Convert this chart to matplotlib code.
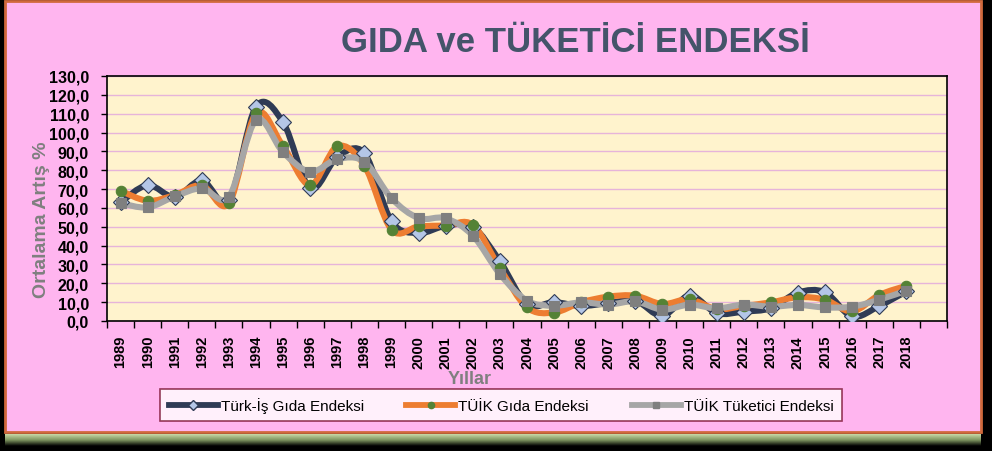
import matplotlib
matplotlib.use('Agg')
import matplotlib.pyplot as plt
from matplotlib.path import Path
from matplotlib.patches import PathPatch, Rectangle
from matplotlib.lines import Line2D
from matplotlib.ticker import FixedLocator, FuncFormatter
from matplotlib.colors import LinearSegmentedColormap
import numpy as np

# Data
years = [str(y) for y in range(1989, 2019)]
turkis_gida = [63.0, 72.1, 65.8, 74.6, 64.0, 113.7, 105.4, 70.5, 87.0, 89.0,
               52.9, 46.7, 50.5, 50.0, 31.7, 9.0, 10.0, 8.0, 9.5, 10.8,
               2.7, 13.5, 4.2, 5.0, 6.8, 15.1, 15.2, 2.4, 8.0, 15.7]
tuik_gida = [69.1, 63.8, 66.8, 72.0, 62.4, 110.2, 92.7, 72.1, 92.7, 82.4,
             48.4, 50.2, 50.6, 51.0, 28.0, 7.2, 4.5, 9.9, 12.9, 13.4,
             9.0, 11.5, 6.3, 8.0, 9.9, 12.6, 11.3, 5.1, 13.8, 18.7]
tuik_tuketici = [62.5, 60.3, 66.1, 70.4, 66.0, 106.6, 89.5, 79.2, 85.9, 84.5,
                 65.1, 54.6, 54.5, 45.3, 24.9, 10.8, 8.1, 9.9, 8.7, 10.4,
                 6.0, 8.7, 6.7, 8.7, 7.6, 8.5, 7.2, 7.6, 11.3, 16.1]
labels = ['Türk-İş Gıda Endeksi', 'TÜİK Gıda Endeksi', 'TÜİK Tüketici Endeksi']

plt.rcParams['font.family'] = ['Liberation Sans', 'DejaVu Sans']


def smooth_path(xs, ys):
    """Excel-like smoothed line: Catmull-Rom as cubic Bezier segments"""
    pts = np.column_stack([xs, ys])
    n = len(pts)
    verts = [pts[0]]
    codes = [Path.MOVETO]
    for i in range(n - 1):
        p0 = pts[i - 1] if i > 0 else pts[i]
        p1 = pts[i]
        p2 = pts[i + 1]
        p3 = pts[i + 2] if i + 2 < n else pts[i + 1]
        c1 = p1 + (p2 - p0) / 6.0
        c2 = p2 - (p3 - p1) / 6.0
        verts += [c1, c2, p2]
        codes += [Path.CURVE4] * 3
    return Path(verts, codes)


fig = plt.figure(figsize=(9.92, 4.52), dpi=100, facecolor='black')

# pink chart area with orange border
fig.patches.append(Rectangle((5 / 992, 1 - 433 / 452), 976 / 992, 431 / 452,
                             transform=fig.transFigure, facecolor='#FFB5EF',
                             edgecolor='#D0693C', linewidth=2, zorder=-10))
# shadow gradient at the bottom
gax = fig.add_axes([5 / 992, 5 / 452, 976 / 992, 12 / 452])
grad = np.linspace(0, 1, 50).reshape(-1, 1)
cmap = LinearSegmentedColormap.from_list('sh', ['#C9D9A6', '#7E9560', '#000000'])
gax.imshow(grad, aspect='auto', cmap=cmap)
gax.axis('off')

ax = fig.add_axes([107 / 992, 130 / 452, 840 / 992, 245 / 452])
ax.set_facecolor('#FFF3CD')

x = np.arange(len(years))
series = [
    (turkis_gida, '#2F3B55', 'D', '#B4C6E7', '#2F3B55', 8),
    (tuik_gida, '#ED7D31', 'o', '#548235', '#548235', 7.5),
    (tuik_tuketici, '#A6A6A6', 's', '#7F7F7F', '#7F7F7F', 6.5),
]
handles = []
for k, (vals, col, mk, mfc, mec, ms) in enumerate(series):
    ax.add_patch(PathPatch(smooth_path(x, vals), facecolor='none', edgecolor=col,
                           linewidth=4.4, capstyle='round', joinstyle='round',
                           zorder=3 + k))
    ax.plot(x, vals, linestyle='none', marker=mk, markerfacecolor=mfc,
            markeredgecolor=mec, markeredgewidth=0.8, markersize=ms, zorder=6 + k)
    handles.append(Line2D([], [], color=col, linewidth=4.2, marker=mk,
                          markerfacecolor=mfc, markeredgecolor=mec,
                          markersize=ms * 0.6))

ax.set_xlim(-0.5, 30.5)
ax.set_ylim(0, 130)
ax.set_yticks(np.arange(0, 131, 10))
ax.yaxis.set_major_formatter(FuncFormatter(lambda v, p: f'{v:.1f}'.replace('.', ',')))
ax.grid(axis='y', color='#E6B4DA', linewidth=1.0, zorder=1)
ax.set_axisbelow(True)

ax.set_xticks(x)
ax.set_xticklabels(years, rotation=90)
ax.xaxis.set_minor_locator(FixedLocator(np.arange(-0.5, 31, 1)))
ax.tick_params(axis='x', which='major', length=0, pad=10)
ax.tick_params(axis='x', which='minor', length=5, width=1, direction='out')
ax.tick_params(axis='y', length=4, width=1, direction='out', pad=9)
for lab in ax.get_xticklabels():
    lab.set_fontweight('bold')
    lab.set_fontsize(10.5)
    lab.set_color('black')
for lab in ax.get_yticklabels():
    lab.set_fontweight('bold')
    lab.set_fontsize(11.5)
    lab.set_color('black')
for s in ax.spines.values():
    s.set_color('black')
    s.set_linewidth(1.2)

fig.text(42 / 992, 1 - 220 / 452, 'Ortalama Artış %', rotation=90, ha='center',
         va='center', fontsize=14, fontweight='bold', color='#7F7F7F')
fig.text(470 / 992, 1 - 380 / 452, 'Yıllar', ha='center', va='center',
         fontsize=13, fontweight='bold', color='#7F7F7F')
fig.text(575 / 992, 1 - 42 / 452, 'GIDA ve TÜKETİCİ ENDEKSİ', ha='center',
         va='center', fontsize=25, fontweight='bold', color='#44546A')

leg = fig.legend(handles, labels, loc='center', ncol=3,
                 bbox_to_anchor=(501 / 992, 1 - 406 / 452),
                 prop={'size': 11},
                 frameon=True, fancybox=False, edgecolor='#7A1030',
                 facecolor='white', handlelength=3.2, columnspacing=2.8,
                 borderpad=0.55, handletextpad=0.2)
leg.get_frame().set_linewidth(1.2)

fig.savefig('out.png', dpi=100, facecolor=fig.get_facecolor())
